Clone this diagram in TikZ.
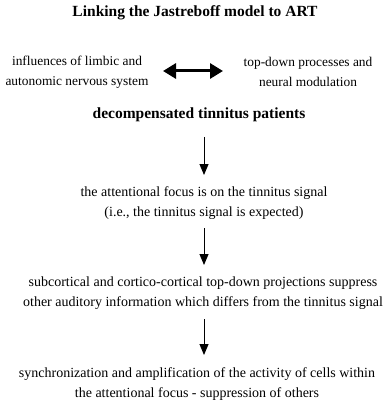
\documentclass[tikz,border=0pt]{standalone}
\usepackage{fontspec}
\setmainfont{Liberation Serif}
\usetikzlibrary{arrows.meta}
\begin{document}
\begin{tikzpicture}[x=1pt,y=-1pt,
  sidetxt/.style={align=center,inner sep=0pt,font=\fontsize{13.4}{20}\selectfont},
  txt/.style={align=center,inner sep=0pt,font=\fontsize{14}{20}\selectfont},
  boldtxt/.style={align=center,inner sep=0pt,font=\fontsize{15.5}{20}\selectfont\bfseries},
  vflow/.style={-{Triangle[width=9pt,length=11pt]},line width=1pt},
  dbl/.style={{Triangle[width=15pt,length=13pt]}-{Triangle[width=15pt,length=13pt]},line width=3pt}]
\useasboundingbox (0,0) rectangle (389,406);
\node[boldtxt] (title) at (195,13) {Linking the Jastreboff model to ART};
\node[sidetxt] (left) at (77,72) {influences of limbic and\\autonomic nervous system};
\node[sidetxt] (right) at (308,72) {top-down processes and\\neural modulation};
\coordinate (la) at (163,71);
\coordinate (ra) at (223,71);
\draw[dbl] (la) -- (ra);
\node[boldtxt] (decomp) at (199,115) {decompensated tinnitus patients};
\node[txt] (attn) at (204,203) {the attentional focus is on the tinnitus signal\\(i.e., the tinnitus signal is expected)};
\node[txt] (sub) at (203,293) {subcortical and cortico-cortical top-down projections suppress\\other auditory information which differs from the tinnitus signal};
\node[txt] (sync) at (197,384) {synchronization and amplification of the activity of cells within\\the attentional focus - suppression of others};
\draw[vflow] (204,137) -- (204,175);
\draw[vflow] (204,228) -- (204,265);
\draw[vflow] (204,319) -- (204,355);
\end{tikzpicture}
\end{document}
